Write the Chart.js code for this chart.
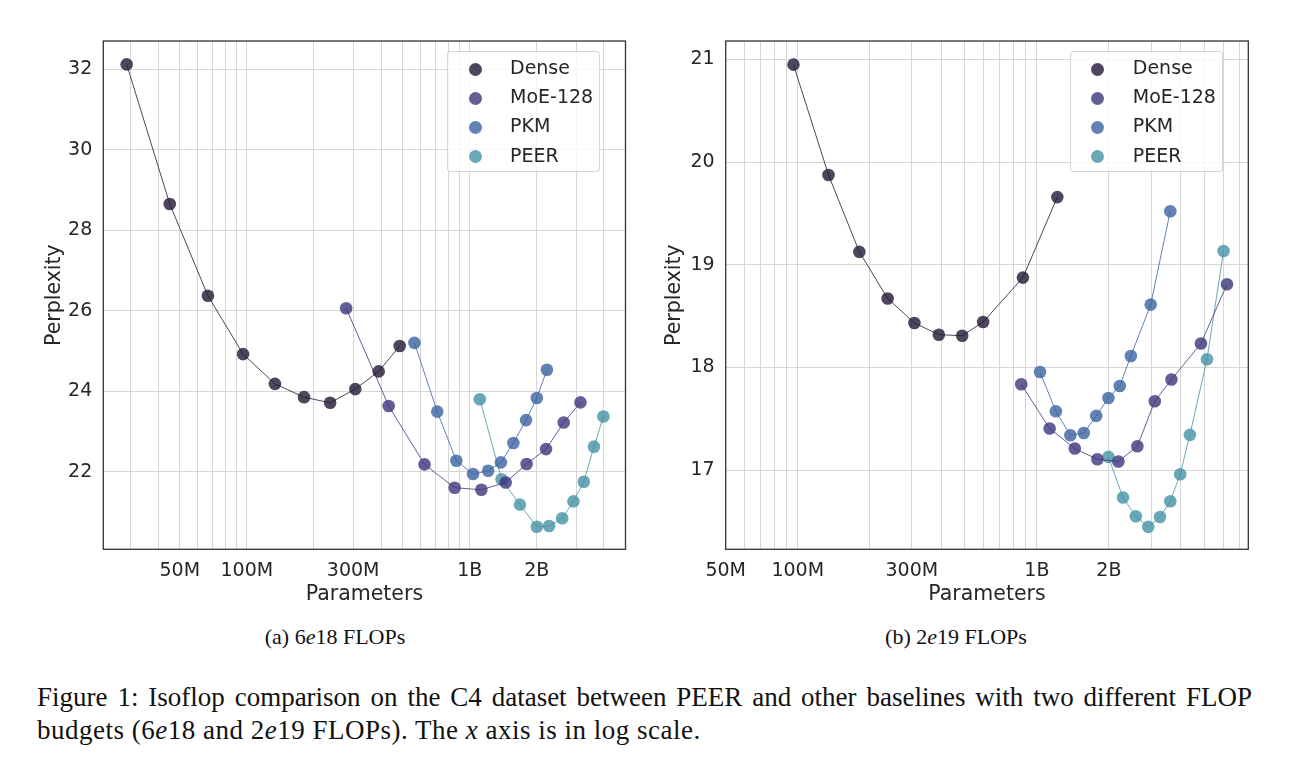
<!DOCTYPE html>
<html>
<head>
<meta charset="utf-8">
<script src="https://cdn.jsdelivr.net/npm/chart.js@4.4.1/dist/chart.umd.min.js"></script>
<style>
  body { margin: 0; background: #fff; }
  #fig { position: relative; width: 1300px; height: 772px; overflow: hidden; font-family: "DejaVu Sans"; color: #262626; }
  canvas { position: absolute; top: 0; }
  .legend { position: absolute; box-sizing: border-box; width: 153px; height: 121px;
            border: 1px solid rgba(204,204,204,0.8); border-radius: 4px; background: rgba(255,255,255,0.8);
            font-size: 19px; }
  .legend .row { position: absolute; left: 0; height: 29px; line-height: 29px; white-space: nowrap; }
  .legend .dot { position: absolute; width: 13px; height: 13px; border-radius: 50%; }
  .sub { position: absolute; top: 624px; width: 300px; text-align: center; line-height: 26px;
         font-family: "Liberation Serif"; font-size: 22px; color: #111; }
  .cap { position: absolute; left: 37px; width: 1215px; line-height: 33px;
         font-family: "Liberation Serif"; font-size: 27px; color: #111; white-space: nowrap; }
</style>
</head>
<body>
<div id="fig">
  <canvas id="chartA" width="645" height="612" style="left:0px"></canvas>
  <canvas id="chartB" width="650" height="612" style="left:650px"></canvas>
  <div class="sub" style="left:185px">(a) 6<i>e</i>18 FLOPs</div>
  <div class="sub" style="left:806px">(b) 2<i>e</i>19 FLOPs</div>
  <div class="cap" style="top:681px; text-align:justify; text-align-last:justify;">Figure 1: Isoflop comparison on the C4 dataset between PEER and other baselines with two different FLOP</div>
  <div class="cap" style="top:714px; letter-spacing:0.5px;">budgets (6<i>e</i>18 and 2<i>e</i>19 FLOPs). The <i>x</i> axis is in log scale.</div>
</div>
<script>
// series
var seriesNames = ['Dense', 'MoE-128', 'PKM', 'PEER'];
var seriesColors = ['rgba(34,24,52,0.8)', 'rgba(61,54,124,0.8)', 'rgba(59,99,161,0.8)', 'rgba(69,146,166,0.8)'];

// (a) 6e18 FLOPs
var denseX_a = [28.9e6, 45.1e6, 66.9e6, 96.2e6, 133.7e6, 180.6e6, 236.5e6, 306.6e6, 390.5e6, 485e6];
var denseY_a = [32.12, 28.65, 26.37, 24.92, 24.18, 23.85, 23.71, 24.05, 24.49, 25.12];
var moeX_a = [279e6, 433e6, 627e6, 856e6, 1.128e9, 1.45e9, 1.8e9, 2.2e9, 2.64e9, 3.14e9];
var moeY_a = [26.06, 23.63, 22.18, 21.60, 21.55, 21.73, 22.19, 22.56, 23.22, 23.72];
var pkmX_a = [565e6, 715e6, 871e6, 1.035e9, 1.21e9, 1.38e9, 1.57e9, 1.79e9, 2.0e9, 2.22e9];
var pkmY_a = [25.2, 23.49, 22.27, 21.94, 22.02, 22.23, 22.71, 23.28, 23.83, 24.53];
var peerX_a = [1.11e9, 1.39e9, 1.68e9, 2.0e9, 2.27e9, 2.6e9, 2.92e9, 3.25e9, 3.61e9, 3.98e9];
var peerY_a = [23.80, 21.81, 21.18, 20.63, 20.65, 20.84, 21.26, 21.75, 22.62, 23.37];

// (b) 2e19 FLOPs
var denseX_b = [96e6, 134.5e6, 181e6, 237.7e6, 307.5e6, 389e6, 487e6, 596e6, 874e6, 1.217e9];
var denseY_b = [20.95, 19.875, 19.126, 18.672, 18.434, 18.32, 18.31, 18.444, 18.876, 19.66];
var moeX_b = [860e6, 1.13e9, 1.44e9, 1.79e9, 2.19e9, 2.63e9, 3.11e9, 3.65e9, 4.85e9, 6.23e9];
var moeY_b = [17.837, 17.406, 17.211, 17.107, 17.085, 17.234, 17.672, 17.883, 18.234, 18.811];
var pkmX_b = [1.03e9, 1.2e9, 1.38e9, 1.57e9, 1.77e9, 1.99e9, 2.22e9, 2.47e9, 2.99e9, 3.61e9];
var pkmY_b = [17.957, 17.574, 17.341, 17.363, 17.529, 17.704, 17.821, 18.113, 18.613, 19.522];
var peerX_b = [1.99e9, 2.29e9, 2.59e9, 2.92e9, 3.27e9, 3.61e9, 3.97e9, 4.36e9, 5.14e9, 6.03e9];
var peerY_b = [17.13, 16.734, 16.552, 16.448, 16.545, 16.698, 16.961, 17.344, 18.081, 19.135];

// ticks
var xGrid_a = [3e7, 4e7, 5e7, 6e7, 7e7, 8e7, 9e7, 1e8, 2e8, 3e8, 4e8, 5e8, 6e8, 7e8, 8e8, 9e8, 1e9, 2e9, 3e9, 4e9];
var xGrid_b = [5e7, 6e7, 7e7, 8e7, 9e7, 1e8, 2e8, 3e8, 4e8, 5e8, 6e8, 7e8, 8e8, 9e8, 1e9, 2e9, 3e9, 4e9, 5e9, 6e9, 7e9];
var xLabelVals = [5e7, 1e8, 3e8, 1e9, 2e9];
var xLabelText = ['50M', '100M', '300M', '1B', '2B'];
var yTicks_a = [22, 24, 26, 28, 30, 32];
var yTicks_b = [17, 18, 19, 20, 21];

var FONT = 'DejaVu Sans';
var TXT = '#262626';

function pts(xs, ys) {
  return xs.map(function (x, i) { return {x: x, y: ys[i]}; });
}

var framePlugin = {
  id: 'frame',
  afterDraw: function (chart) {
    var a = chart.chartArea, ctx = chart.ctx;
    ctx.save();
    ctx.strokeStyle = '#333';
    ctx.lineWidth = 1.3;
    ctx.strokeRect(a.left, a.top, a.right - a.left, a.bottom - a.top);
    ctx.restore();
  }
};

var htmlLegend = {
  id: 'htmlLegend',
  afterRender: function (chart) {
    if (chart.$legendDone) return;
    chart.$legendDone = true;
    var a = chart.chartArea;
    var box = document.createElement('div');
    box.className = 'legend';
    box.style.left = (chart.canvas.offsetLeft + a.right - 25.5 - 153) + 'px';
    box.style.top = (a.top + 9.7) + 'px';
    chart.data.datasets.forEach(function (ds, i) {
      var cy = 17.6 + i * 29.1;
      var dot = document.createElement('div');
      dot.className = 'dot';
      dot.style.background = ds.backgroundColor;
      dot.style.left = '20.5px';
      dot.style.top = (cy - 6.5) + 'px';
      var row = document.createElement('div');
      row.className = 'row';
      row.style.left = '62px';
      row.style.top = (cy - 16) + 'px';
      row.textContent = ds.label;
      box.appendChild(dot);
      box.appendChild(row);
    });
    document.getElementById('fig').appendChild(box);
  }
};

function makeChart(id, series, xMin, xMax, yMin, yMax, xGrid, yTicks, yAxisW, padR, yTitlePad) {
  var datasets = series.map(function (s, i) {
    return {
      label: seriesNames[i],
      data: s,
      showLine: true,
      borderColor: seriesColors[i],
      borderWidth: 1,
      backgroundColor: seriesColors[i],
      pointBackgroundColor: seriesColors[i],
      pointBorderWidth: 0,
      pointRadius: 6.3
    };
  });
  return new Chart(document.getElementById(id), {
    type: 'scatter',
    data: {datasets: datasets},
    plugins: [framePlugin, htmlLegend],
    options: {
      responsive: false,
      animation: false,
      events: [],
      layout: {padding: {left: 0, top: 41, right: padR, bottom: 0}},
      plugins: {legend: {display: false}, tooltip: {enabled: false}},
      scales: {
        x: {
          type: 'logarithmic',
          min: xMin, max: xMax,
          afterBuildTicks: function (s) { s.ticks = xGrid.map(function (v) { return {value: v}; }); },
          afterFit: function (s) { s.height = 62.7; },
          grid: {color: '#d6d6d6', lineWidth: 1, drawTicks: false},
          border: {display: false},
          ticks: {
            autoSkip: false, maxRotation: 0, padding: 10, color: TXT,
            font: {family: FONT, size: 19},
            callback: function (v) { var i = xLabelVals.indexOf(v); return i < 0 ? '' : xLabelText[i]; }
          },
          title: {display: true, text: 'Parameters', color: TXT, font: {family: FONT, size: 20.5}, padding: {top: 0, bottom: 5}}
        },
        y: {
          min: yMin, max: yMax,
          afterBuildTicks: function (s) { s.ticks = yTicks.map(function (v) { return {value: v}; }); },
          afterFit: function (s) { s.width = yAxisW; },
          grid: {color: '#d6d6d6', lineWidth: 1, drawTicks: false},
          border: {display: false},
          ticks: {padding: 11, color: TXT, font: {family: FONT, size: 19}, callback: function (v) { return String(v); }},
          title: {display: true, text: 'Perplexity', color: TXT, font: {family: FONT, size: 20.5}, padding: {top: yTitlePad, bottom: 0}}
        }
      }
    }
  });
}

makeChart('chartA',
  [pts(denseX_a, denseY_a), pts(moeX_a, moeY_a), pts(pkmX_a, pkmY_a), pts(peerX_a, peerY_a)],
  2.27e7, 5.0e9, 20.07, 32.70, xGrid_a, yTicks_a, 103.3, 19.5, 42.7);

makeChart('chartB',
  [pts(denseX_b, denseY_b), pts(moeX_b, moeY_b), pts(pkmX_b, pkmY_b), pts(peerX_b, peerY_b)],
  5.0e7, 7.65e9, 16.23, 21.18, xGrid_b, yTicks_b, 75.7, 51.7, 12.7);
</script>
</body>
</html>
